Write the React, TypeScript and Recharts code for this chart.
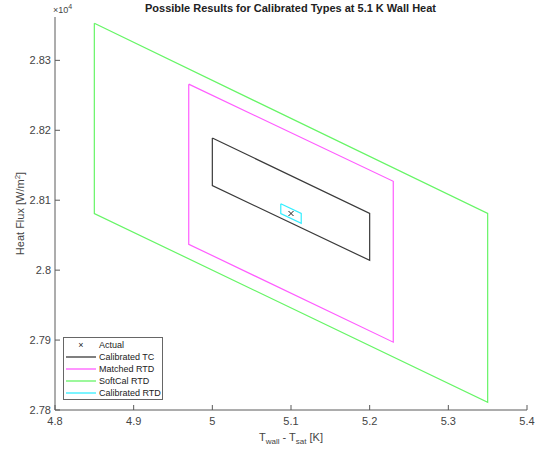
import React from "react";
import {
  ComposedChart,
  Line,
  Scatter,
  XAxis,
  YAxis,
} from "recharts";

// corner points of each band, in order TL, BL, BR, TR, back to TL
const softCalX = [4.85, 4.85, 5.35, 5.35, 4.85];
const softCalY = [28353, 28081, 27811, 28081, 28353];
const matchedX = [4.97, 4.97, 5.23, 5.23, 4.97];
const matchedY = [28266, 28037, 27897, 28127, 28266];
const calTcX = [5.0, 5.0, 5.2, 5.2, 5.0];
const calTcY = [28189, 28121, 28014, 28081, 28189];
const calRtdX = [5.087, 5.087, 5.113, 5.113, 5.087];
const calRtdY = [28095, 28081, 28067, 28081, 28095];
const actualX = [5.1];
const actualY = [28081];

const xTicks = [4.8, 4.9, 5, 5.1, 5.2, 5.3, 5.4];
const yTicks = [27800, 27900, 28000, 28100, 28200, 28300];

const FONT = '"Liberation Sans", Arial, Helvetica, sans-serif';
const AXIS = "#5a5a5a";
const TEXT = "#444";

const zip = (xs: number[], ys: number[]) => xs.map((x, i) => ({ x, y: ys[i] }));

const series = [
  { name: "Calibrated TC", color: "#3a3a3a", data: zip(calTcX, calTcY) },
  { name: "Matched RTD", color: "#ff5cff", data: zip(matchedX, matchedY) },
  { name: "SoftCal RTD", color: "#66f566", data: zip(softCalX, softCalY) },
  { name: "Calibrated RTD", color: "#33eeff", data: zip(calRtdX, calRtdY) },
];

const XMark = (props: any) => {
  const { cx, cy } = props;
  const s = 2.5;
  return (
    <g stroke="#222" strokeWidth={1}>
      <line x1={cx - s} y1={cy - s} x2={cx + s} y2={cy + s} />
      <line x1={cx - s} y1={cy + s} x2={cx + s} y2={cy - s} />
    </g>
  );
};

const XLabel = (props: any) => {
  const vb = props.viewBox;
  return (
    <text x={vb.x + vb.width / 2} y={441} textAnchor="middle" fontSize={11} fill={TEXT} fontFamily={FONT}>
      T<tspan fontSize={8} dy={3}>wall</tspan>
      <tspan dy={-3}> - T</tspan>
      <tspan fontSize={8} dy={3}>sat</tspan>
      <tspan dy={-3}> [K]</tspan>
    </text>
  );
};

const YLabel = (props: any) => {
  const vb = props.viewBox;
  const cy = vb.y + vb.height / 2;
  return (
    <text x={24} y={cy} transform={`rotate(-90 24 ${cy})`} textAnchor="middle" fontSize={11} fill={TEXT} fontFamily={FONT}>
      Heat Flux [W/m<tspan fontSize={8} dy={-4}>2</tspan>
      <tspan dy={4}>]</tspan>
    </text>
  );
};

export default function App() {
  return (
    <div style={{ position: "absolute", left: 0, top: 0, width: 539, height: 450, background: "#fff", fontFamily: FONT }}>
      <ComposedChart width={539} height={450} margin={{ top: 17, right: 12, bottom: 10, left: 10 }}>
        <XAxis
          dataKey="x"
          type="number"
          domain={[4.8, 5.4]}
          ticks={xTicks}
          height={30}
          stroke={AXIS}
          tickSize={-5}
          tickMargin={12}
          tick={{ fontSize: 11, fill: TEXT, fontFamily: FONT }}
          tickFormatter={(v: number) => String(v)}
          label={{ content: XLabel }}
        />
        <XAxis
          xAxisId="top"
          dataKey="x"
          type="number"
          orientation="top"
          domain={[4.8, 5.4]}
          ticks={xTicks}
          height={0}
          stroke={AXIS}
          tickSize={-5}
          tickFormatter={() => ""}
        />
        <YAxis
          dataKey="y"
          type="number"
          domain={[27800, 28362]}
          ticks={yTicks}
          width={45}
          stroke={AXIS}
          tickSize={-5}
          tickMargin={9}
          tick={{ fontSize: 11, fill: TEXT, fontFamily: FONT }}
          tickFormatter={(v: number) => String(Number((v / 1e4).toFixed(2)))}
          label={{ content: YLabel }}
        />
        <YAxis
          yAxisId="right"
          dataKey="y"
          type="number"
          orientation="right"
          domain={[27800, 28362]}
          ticks={yTicks}
          width={0}
          stroke={AXIS}
          tickSize={-5}
          tickFormatter={() => ""}
        />
        {series.map((s) => (
          <Line
            key={s.name}
            data={s.data}
            dataKey="y"
            type="linear"
            stroke={s.color}
            strokeWidth={1.2}
            dot={false}
            activeDot={false}
            isAnimationActive={false}
          />
        ))}
        <Scatter data={zip(actualX, actualY)} dataKey="y" shape={XMark} isAnimationActive={false} />
      </ComposedChart>

      <div style={{ position: "absolute", left: 0, width: 539, top: 2, textAlign: "center", paddingLeft: 42, boxSizing: "border-box", fontSize: 11, fontWeight: "bold", color: "#222" }}>
        Possible Results for Calibrated Types at 5.1 K Wall Heat
      </div>
      <div style={{ position: "absolute", left: 53, top: 3, fontSize: 9, color: TEXT }}>
        ×10<sup style={{ fontSize: 7 }}>4</sup>
      </div>

      <div style={{ position: "absolute", left: 63, top: 337, width: 100, height: 63, border: "1px solid #666", background: "#fff", fontSize: 9, color: "#222", boxSizing: "border-box", padding: "1px 0", whiteSpace: "nowrap", lineHeight: "12px" }}>
        <div style={{ display: "flex", alignItems: "center", height: 12 }}>
          <span style={{ flex: "0 0 30px", textAlign: "center", marginLeft: 2, fontSize: 9 }}>×</span>
          <span style={{ marginLeft: 3 }}>Actual</span>
        </div>
        {series.map((s) => (
          <div key={s.name} style={{ display: "flex", alignItems: "center", height: 12 }}>
            <svg width={30} height={12} style={{ flex: "0 0 30px", marginLeft: 2 }}>
              <line x1={0} y1={6} x2={30} y2={6} stroke={s.color} strokeWidth={1.3} />
            </svg>
            <span style={{ marginLeft: 3 }}>{s.name}</span>
          </div>
        ))}
      </div>
    </div>
  );
}
